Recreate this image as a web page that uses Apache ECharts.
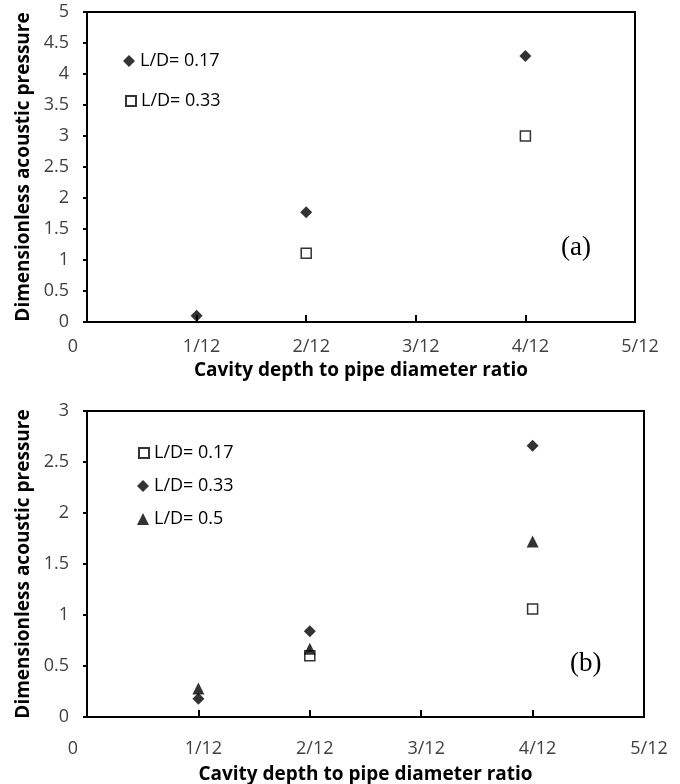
<!DOCTYPE html>
<html>
<head>
<meta charset="utf-8">
<script src="https://cdn.jsdelivr.net/npm/echarts@6/dist/echarts.min.js"></script>
<style>
  html, body { margin: 0; padding: 0; background: #fff; }
  #chartA, #chartB { width: 680px; height: 392px; }
</style>
</head>
<body>
<div id="chartA"></div>
<div id="chartB"></div>
<script>
// cavity depth in twelfths of pipe diameter
const depthTicks = [0, 1, 2, 3, 4, 5];

// (a)
const aDepth017 = [1, 2, 4];
const aPressure017 = [0.1, 1.77, 4.29];
const aDepth033 = [2, 4];
const aPressure033 = [1.11, 3.0];

// (b)
const bDepth017 = [2, 4];
const bPressure017 = [0.6, 1.06];
const bDepth033 = [1, 2, 4];
const bPressure033 = [0.18, 0.84, 2.66];
const bDepth05 = [1, 2, 4];
const bPressure05 = [0.28, 0.67, 1.72];

const FONT = 'Open Sans';
const TICK_COLOR = '#404040';

const pairs = (xs, ys) => xs.map((x, i) => [x, ys[i]]);

function xAxisCfg(nameGap, labelMargin) {
    const lbl = { fontFamily: FONT, fontSize: 18, color: TICK_COLOR };
    return {
        type: 'value',
        min: depthTicks[0],
        max: depthTicks[depthTicks.length - 1],
        interval: 1,
        name: 'Cavity depth to pipe diameter ratio',
        nameLocation: 'middle',
        nameGap: nameGap,
        nameTextStyle: { fontFamily: FONT, fontWeight: 'bold', fontSize: 19, color: '#000' },
        axisLine: { show: true, lineStyle: { color: '#000', width: 2 } },
        axisTick: { show: true, inside: true, length: 7, lineStyle: { color: '#000', width: 2 } },
        axisLabel: {
            margin: labelMargin,
            formatter: v => v === 0 ? '{z|0}' : '{n|' + v + '/12}',
            rich: {
                // the original labels sit a little off their ticks
                z: Object.assign({ padding: [0, 28, 0, 0] }, lbl),
                n: Object.assign({ padding: [0, 0, 0, 10] }, lbl)
            }
        },
        splitLine: { show: false }
    };
}

function yAxisCfg(max) {
    return {
        type: 'value',
        min: 0,
        max: max,
        interval: 0.5,
        name: 'Dimensionless acoustic pressure',
        nameLocation: 'middle',
        nameGap: 52,
        nameTextStyle: { fontFamily: FONT, fontWeight: 'bold', fontSize: 19, color: '#000' },
        axisLine: { show: true, lineStyle: { color: '#000', width: 2 } },
        axisTick: { show: true, length: 4, lineStyle: { color: '#000', width: 2 } },
        axisLabel: { fontFamily: FONT, fontSize: 18, color: TICK_COLOR, margin: 18 },
        splitLine: { show: false }
    };
}

const diamond = { symbol: 'diamond', symbolSize: 12, itemStyle: { color: '#000' } };
const square = { symbol: 'rect', symbolSize: 10, itemStyle: { color: '#fff', borderColor: '#000', borderWidth: 1.5 } };
const triangle = { symbol: 'triangle', symbolSize: 12, itemStyle: { color: '#000' } };

// one legend per entry so every icon can keep its own size
function legendItem(name, size, cx, cy) {
    return {
        data: [name],
        left: cx - size / 2, top: cy - 7,
        padding: 0,
        itemWidth: size, itemHeight: size,
        textStyle: { fontFamily: FONT, fontSize: 18, color: '#000' },
        selectedMode: false
    };
}

function gridCfg(top, width, height) {
    return { left: 87, top: top, width: width, height: height, show: true,
        borderColor: '#000', borderWidth: 2, outerBoundsMode: 'none' };
}

const chartA = echarts.init(document.getElementById('chartA'));
chartA.setOption({
    animation: false,
    title: {
        text: '(a)', left: 556, top: 229,
        textStyle: { fontFamily: 'Liberation Serif', fontSize: 27, fontWeight: 'normal', color: '#000' }
    },
    grid: gridCfg(12, 548, 310),
    xAxis: xAxisCfg(38, 16),
    yAxis: yAxisCfg(5),
    legend: [
        legendItem('L/D= 0.17', 12, 129, 59),
        legendItem('L/D= 0.33', 10, 130, 99)
    ],
    series: [
        Object.assign({ name: 'L/D= 0.17', type: 'scatter', data: pairs(aDepth017, aPressure017) }, diamond),
        Object.assign({ name: 'L/D= 0.33', type: 'scatter', data: pairs(aDepth033, aPressure033) }, square)
    ]
});

const chartB = echarts.init(document.getElementById('chartB'));
chartB.setOption({
    animation: false,
    title: {
        text: '(b)', left: 565, top: 253,
        textStyle: { fontFamily: 'Liberation Serif', fontSize: 27, fontWeight: 'normal', color: '#000' }
    },
    grid: gridCfg(19, 557, 306),
    xAxis: xAxisCfg(48, 23),
    yAxis: yAxisCfg(3),
    legend: [
        legendItem('L/D= 0.17', 10, 143, 59),
        legendItem('L/D= 0.33', 12, 143, 92),
        legendItem('L/D= 0.5', 12, 143, 125)
    ],
    series: [
        Object.assign({ name: 'L/D= 0.17', type: 'scatter', data: pairs(bDepth017, bPressure017) }, square),
        Object.assign({ name: 'L/D= 0.33', type: 'scatter', data: pairs(bDepth033, bPressure033) }, diamond),
        Object.assign({ name: 'L/D= 0.5', type: 'scatter', data: pairs(bDepth05, bPressure05) }, triangle)
    ]
});
</script>
</body>
</html>
